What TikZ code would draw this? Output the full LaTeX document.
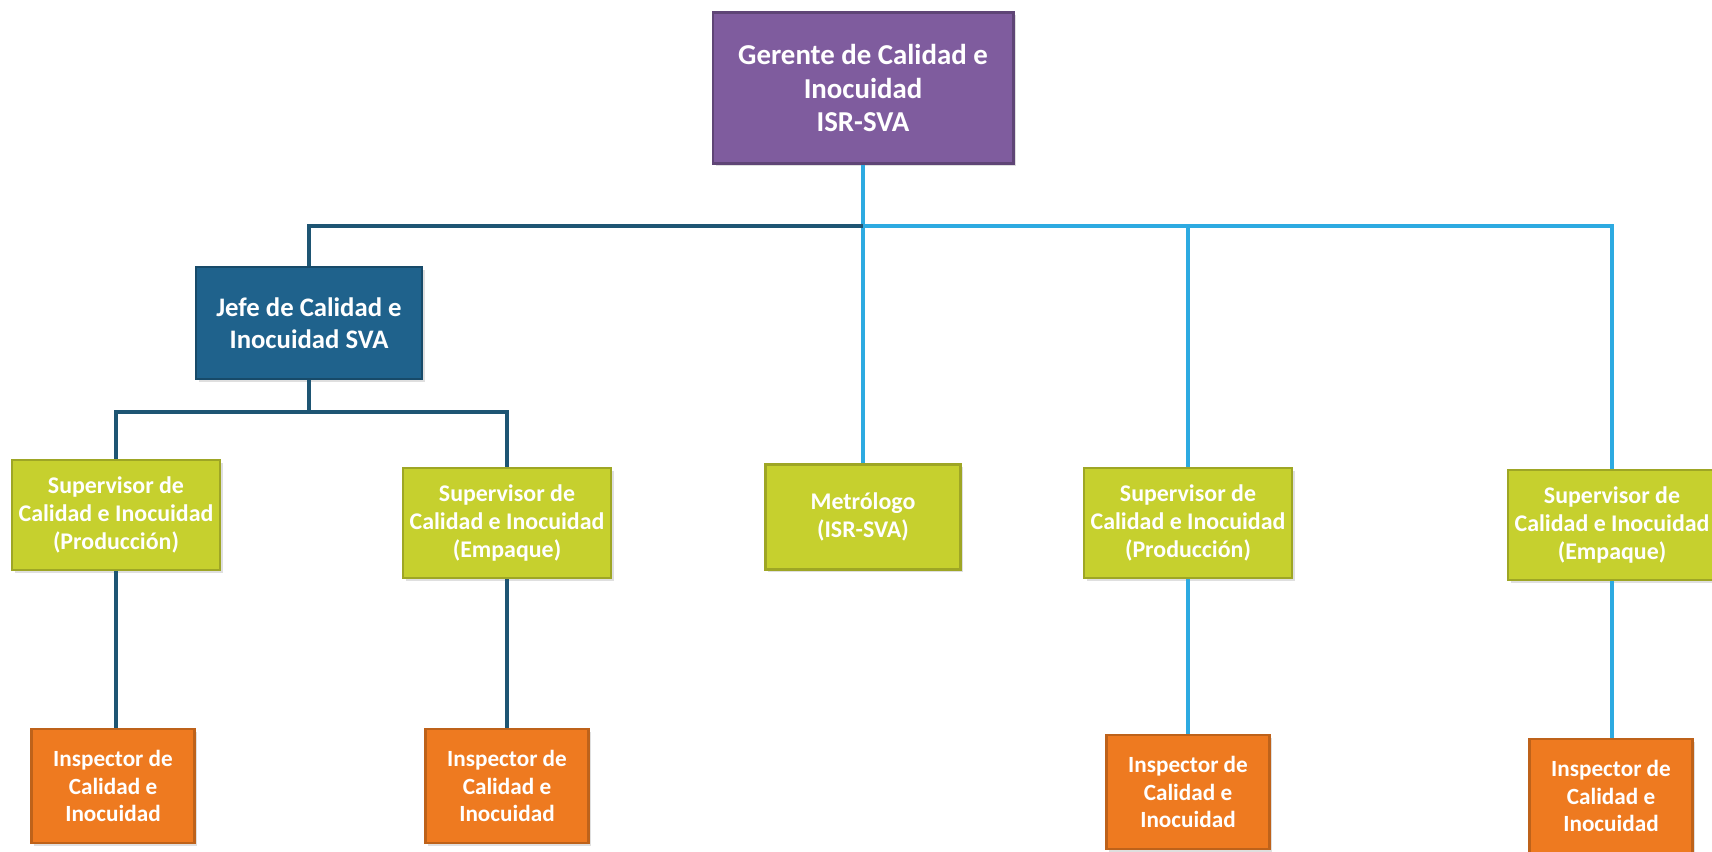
\documentclass[tikz,border=0pt]{standalone}
\usepackage{fontspec}
\setmainfont{Carlito}
\usetikzlibrary{shadows}
\definecolor{gerpurple}{RGB}{127,92,158}
\definecolor{jefeblue}{RGB}{31,98,140}
\definecolor{supgreen}{RGB}{198,208,46}
\definecolor{insorange}{RGB}{238,122,32}
\definecolor{darkline}{RGB}{30,85,115}
\definecolor{lightline}{RGB}{45,170,225}

\begin{document}
\begin{tikzpicture}[x=0.01cm,y=-0.01cm]
      \useasboundingbox (0,0) rectangle (1712,851);
      \tikzstyle{cargo} = [shape=rectangle, text=white, align=center, line width=0.8pt, drop shadow={shadow xshift=0.8pt, shadow yshift=-0.8pt, opacity=0.25}]
      \tikzstyle{gerente} = [cargo, fill=gerpurple, draw=gerpurple!75!black, minimum width=3cm, minimum height=1.51cm, font=\fontsize{8.2}{9.6}\selectfont\bfseries]
      \tikzstyle{jefe} = [cargo, fill=jefeblue, draw=jefeblue!75!black, minimum width=2.26cm, minimum height=1.12cm, font=\fontsize{7.6}{9.2}\selectfont\bfseries]
      \tikzstyle{supervisor} = [cargo, fill=supgreen, draw=supgreen!80!black, minimum width=2.08cm, minimum height=1.1cm, inner sep=1pt, font=\fontsize{6.8}{8}\selectfont\bfseries]
      \tikzstyle{inspector} = [cargo, fill=insorange, draw=insorange!80!black, minimum width=1.63cm, minimum height=1.14cm, font=\fontsize{6.6}{7.8}\selectfont\bfseries]
      \tikzstyle{darklink} = [draw=darkline, line width=1.2pt]
      \tikzstyle{lightlink} = [draw=lightline, line width=1pt]
      \node (ger) [gerente] at (863,88) {Gerente de Calidad e\\Inocuidad\\ISR-SVA};
      \node (jefe) [jefe] at (309,323) {Jefe de Calidad e\\Inocuidad SVA};
      \node (sup1) [supervisor] at (116,515) {Supervisor de\\Calidad e Inocuidad\\(Producción)};
      \node (sup2) [supervisor] at (507,523) {Supervisor de\\Calidad e Inocuidad\\(Empaque)};
      \node (met) [supervisor, minimum width=1.95cm, minimum height=1.05cm] at (863,517) {Metrólogo\\(ISR-SVA)};
      \node (sup3) [supervisor] at (1188,523) {Supervisor de\\Calidad e Inocuidad\\(Producción)};
      \node (sup4) [supervisor] at (1612,525) {Supervisor de\\Calidad e Inocuidad\\(Empaque)};
      \node (ins1) [inspector] at (113,786) {Inspector de\\Calidad e\\Inocuidad};
      \node (ins2) [inspector] at (507,786) {Inspector de\\Calidad e\\Inocuidad};
      \node (ins3) [inspector] at (1188,792) {Inspector de\\Calidad e\\Inocuidad};
      \node (ins4) [inspector] at (1611,796) {Inspector de\\Calidad e\\Inocuidad};
      \coordinate (bar) at (863,226);
      \coordinate (jbar) at (309,412);
      \draw [lightlink] (ger.south) -- (met.north);
      \draw [darklink] (jefe.north) |- (bar);
      \draw [lightlink] (bar) -| (sup3.north);
      \draw [lightlink] (sup3.north |- bar) -| (sup4.north);
      \draw [darklink] (jefe.south) -- (jbar) -| (sup1.north);
      \draw [darklink] (jbar) -| (sup2.north);
      \draw [darklink] (sup1.south) -- (sup1.south |- ins1.north);
      \draw [darklink] (sup2.south) -- (ins2.north);
      \draw [lightlink] (sup3.south) -- (ins3.north);
      \draw [lightlink] (sup4.south) -- (sup4.south |- ins4.north);
    \end{tikzpicture}
\end{document}
